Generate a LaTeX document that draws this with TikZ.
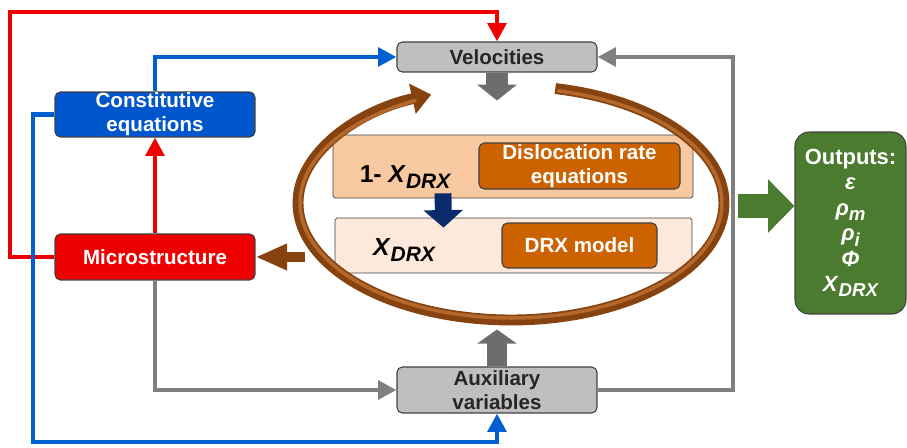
\documentclass[tikz,border=0pt]{standalone}
\usepackage{fontspec}
\setmainfont{Liberation Sans}
\usetikzlibrary{arrows.meta}
\definecolor{redline}{HTML}{EE0000}
\definecolor{blueline}{HTML}{0060D0}
\definecolor{grayline}{HTML}{808080}
\definecolor{boxgray}{HTML}{BFBFBF}
\definecolor{constblue}{HTML}{0056CC}
\definecolor{peach}{HTML}{F8C8A0}
\definecolor{lightpeach}{HTML}{FDE8DC}
\definecolor{rust}{HTML}{CC6200}
\definecolor{outgreen}{HTML}{4B7B2E}
\definecolor{ringbrown}{HTML}{86420F}
\definecolor{ringlight}{HTML}{B4682C}
\definecolor{navyarr}{HTML}{0B2A6B}
\newcommand{\lowidx}[1]{\raisebox{-0.45ex}{\scalebox{0.85}{\itshape #1}}}

\begin{document}
\begin{tikzpicture}[x=0.02cm,y=0.02cm,
  box/.style={draw=black!75,rounded corners=3pt,line width=0.6pt,align=center,inner sep=0pt,
    font=\fontsize{11.7}{13.5}\selectfont\bfseries},
  graybox/.style={box,fill=boxgray,text=black!85,minimum width=4cm},
  conn/.style={line width=2.8pt,-{Triangle[length=10.5pt,width=10.5pt]}}]
  \useasboundingbox (0,0) rectangle (907,447);
  % boxes
  \node (velo) at (497,390) [graybox,minimum height=0.6cm] {Velocities};
  \node (aux) at (497,57) [graybox,minimum height=0.92cm] {Auxiliary\\variables};
  \node (const) at (155,332.5) [box,fill=constblue,text=white,minimum width=4cm,minimum height=0.9cm] {Constitutive\\equations};
  \node (micro) at (155,190) [box,fill=redline,text=white,minimum width=4cm,minimum height=0.92cm] {Microstructure};
  \node (box1) at (513,280.5) [draw=black!75,fill=peach,rounded corners=1pt,minimum width=7.2cm,minimum height=1.26cm] {};
  \node (box2) at (513.5,201.5) [draw=black!75,fill=lightpeach,rounded corners=1pt,minimum width=7.14cm,minimum height=1.1cm] {};
  \node (disloc) at (579.5,281) [box,fill=rust,text=white,minimum width=4.02cm,minimum height=0.92cm] {Dislocation rate\\equations};
  \node (drx) at (579.5,201.5) [box,fill=rust,text=white,minimum width=3.1cm,minimum height=0.9cm] {DRX model};
  \node (one) at (405,270) [font=\fontsize{14}{16}\selectfont\bfseries] {1- \textit{X}\lowidx{DRX}};
  \node (xdrx) at (404,197) [font=\fontsize{14}{16}\selectfont\bfseries] {\textit{X}\lowidx{DRX}};
  \node (out) at (850.5,224) [box,fill=outgreen,text=white,rounded corners=8pt,minimum width=2.22cm,minimum height=3.64cm,
    font=\fontsize{12.5}{14.5}\selectfont\bfseries] {Outputs:\\ \textit{ε}\\ \textit{ρ}\lowidx{m}\\ \textit{ρ}\lowidx{i}\\ \textit{Φ}\\ \textit{X}\lowidx{DRX}};
  % connectors
  \draw[conn, color=redline] (micro.west) -| (10,435) -| (velo.north);
  \draw[conn, color=redline] (micro.north) -- (const.south);
  \draw[conn, color=blueline] (const.north) |- (velo.west);
  \draw[conn, color=blueline] (const.west) -| (33,5) -| (aux.south);
  \draw[conn, color=grayline] (micro.south) |- (aux.west);
  \draw[conn, color=grayline] (aux.east) -| (733,390) -- (velo.east);
  % block arrows
  \draw[line width=12pt, color=grayline!85!black, -{Triangle[length=9pt,width=22pt]}] (velo.south) -- ++(0,-28);
  \draw[line width=11pt, color=grayline!85!black, -{Triangle[length=8pt,width=22pt]}] (aux.north) -- ++(0,37);
  \draw[line width=9.6pt, color=navyarr, -{Triangle[length=10pt,width=22pt]}] ([xshift=-1.4cm,yshift=0.1cm]box1.south) -- ([xshift=-1.4cm,yshift=-0.2cm]box2.north);
  % ring
  \coordinate (ringc) at (511,244);
  \coordinate (ringw) at (305,190);
  \coordinate (ringe) at (738,241);
  \draw[line width=6.2pt, color=ringbrown, -{Triangle[length=11pt,width=17pt]}] (ringc) ++(78:4.26cm and 2.34cm)
    arc[start angle=78, end angle=-248, x radius=4.26cm, y radius=2.34cm];
  \draw[line width=2pt, color=ringlight, line cap=round] (ringc) ++(77:4.22cm and 2.30cm)
    arc[start angle=77, end angle=-243, x radius=4.22cm, y radius=2.30cm];
  \draw[line width=6.2pt, color=ringbrown, -{Triangle[length=18pt,width=14pt]}] (ringw) -- (micro.east);
  \draw[line width=14pt, color=outgreen, -{Triangle[length=15pt,width=29.5pt]}] (ringe) -- (ringe -| out.west);
\end{tikzpicture}
\end{document}
